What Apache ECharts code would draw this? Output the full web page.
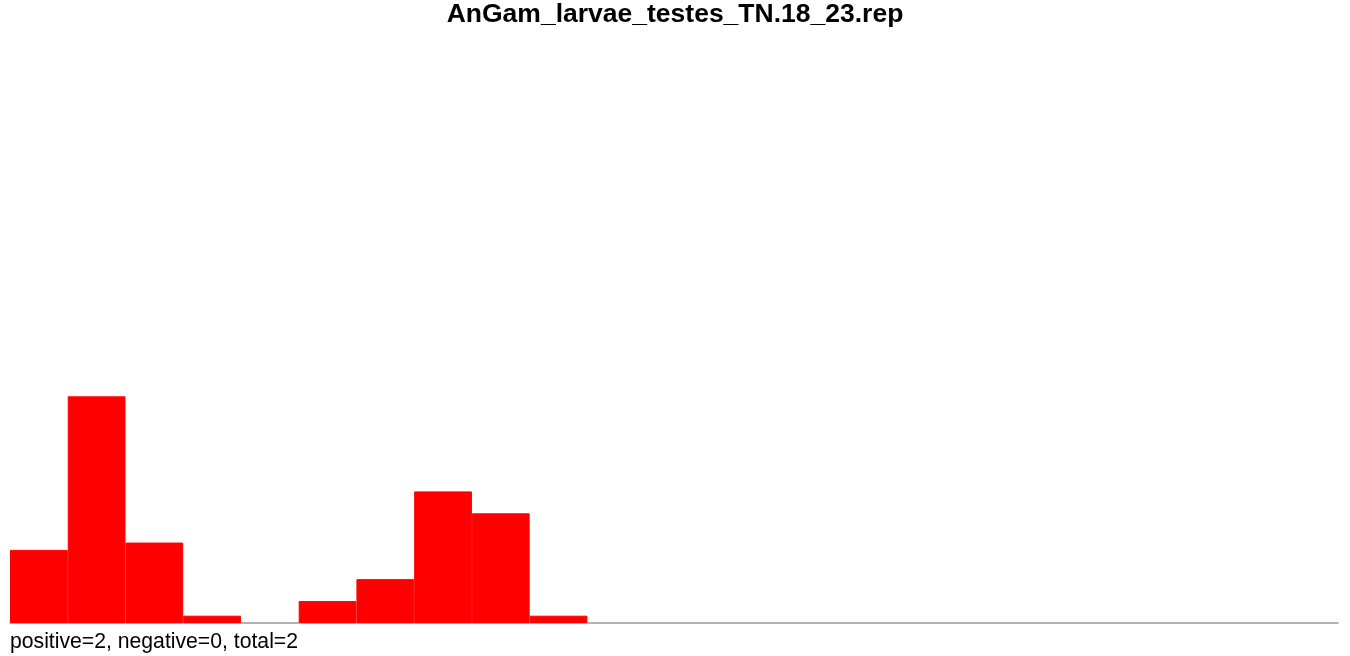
<!DOCTYPE html>
<html>
<head>
<meta charset="utf-8">
<script src="https://cdn.jsdelivr.net/npm/echarts@6/dist/echarts.min.js"></script>
<style>html,body{margin:0;padding:0;background:#fff}#c{width:1350px;height:656px}</style>
</head>
<body>
<div id="c"></div>
<script>
const titleText = 'AnGam_larvae_testes_TN.18_23.rep';
const footerText = 'positive=2, negative=0, total=2';
const bins = Array.from({length: 23}, (_, i) => String(i + 1));
const counts = [10, 31, 11, 1, 0, 3, 6, 18, 15, 1, 0, 0, 0, 0, 0, 0, 0, 0, 0, 0, 0, 0, 0];

const barData = counts.map(v => v > 0
  ? {value: v, itemStyle: {color: '#ff0000', borderColor: '#ff0000', borderWidth: 1}}
  : {value: v, itemStyle: {borderWidth: 0, opacity: 0}});

const chart = echarts.init(document.getElementById('c'), null, {renderer: 'canvas'});
chart.setOption({
  animation: false,
  backgroundColor: '#ffffff',
  title: {
    text: titleText,
    left: 'center',
    top: 2,
    padding: 0,
    textStyle: {fontFamily: 'Liberation Sans', fontWeight: 'bold', fontSize: 26.5, lineHeight: 26, color: '#000'}
  },
  grid: {left: 10, right: 12, top: 38, bottom: 33, containLabel: false},
  xAxis: {
    type: 'category',
    data: bins,
    boundaryGap: true,
    axisLine: {show: true, lineStyle: {color: '#999999', width: 1.5}},
    axisTick: {show: false},
    axisLabel: {show: false},
    splitLine: {show: false}
  },
  yAxis: {
    type: 'value',
    min: 0,
    max: 80,
    show: false,
    splitLine: {show: false}
  },
  series: [{
    type: 'bar',
    data: barData,
    barCategoryGap: '0%',
    barGap: '0%',
    itemStyle: {color: '#ff0000'},
    z: 3
  }],
  graphic: [{
    type: 'text',
    left: 10,
    top: 631,
    style: {text: footerText, fontFamily: 'Liberation Sans', fontSize: 21.2, lineHeight: 22, fill: '#000'}
  }]
});
</script>
</body>
</html>
